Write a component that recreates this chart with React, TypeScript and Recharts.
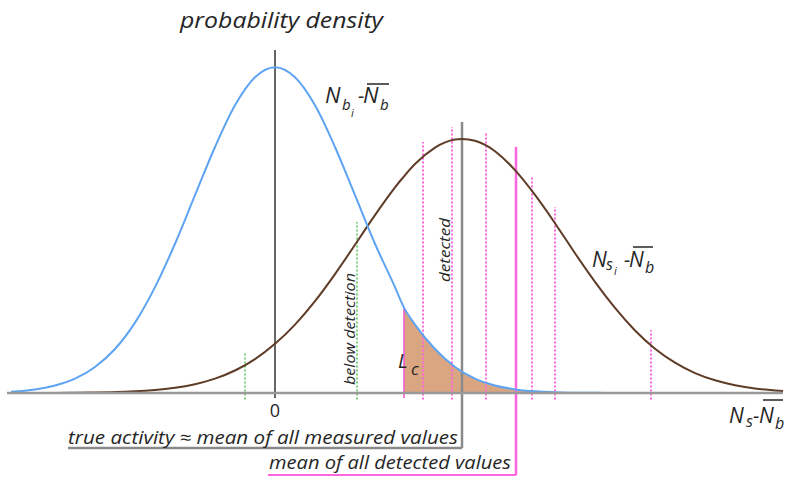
import {
  Area,
  ComposedChart,
  Line,
  ReferenceLine,
  XAxis,
  YAxis,
} from "recharts";

// x in units of the background spread, 0 = true activity
const xs = [
  -3.3, -3, -2.75, -2.5, -2.25, -2, -1.75, -1.5, -1.25, -1, -0.75, -0.5, -0.25,
  0, 0.25, 0.5, 0.75, 1, 1.25, 1.5, 1.6125, 1.75, 2, 2.25, 2.5, 2.75, 3, 3.25,
  3.5, 3.75, 4, 4.25, 4.5, 4.75, 5, 5.25, 5.5, 5.75, 6, 6.25, 6.35,
];

// N_bi - mean(N_b)
const background = [
  0.004, 0.011, 0.023, 0.044, 0.08, 0.135, 0.216, 0.325, 0.458, 0.607, 0.755,
  0.883, 0.969, 1, 0.969, 0.883, 0.755, 0.607, 0.458, 0.325, 0.262, 0.21, 0.135,
  0.08, 0.044, 0.023, 0.011, 0.005, 0.002, 0.001, 0.0005, 0.0003, 0.0002,
  0.0001, 0, null, null, null, null, null, null,
];

// N_si - mean(N_b)
const sample = [
  0.0001, 0.0001, 0.0003, 0.0007, 0.0014, 0.0027, 0.005, 0.009, 0.016, 0.027,
  0.044, 0.069, 0.104, 0.151, 0.21, 0.282, 0.365, 0.455, 0.546, 0.631, 0.665,
  0.703, 0.753, 0.778, 0.774, 0.742, 0.684, 0.608, 0.521, 0.429, 0.341, 0.261,
  0.192, 0.136, 0.093, 0.061, 0.039, 0.024, 0.014, 0.008, 0.006,
];

const criticalLevel = 1.6125;
const measuredMean = 2.3375;
const detectedMean = 3.0125;

const detectedX = [1.85, 2.2125, 2.6375, 3.2125, 3.5, 4.7];
const detectedTop = [0.77, 0.816, 0.801, 0.663, 0.571, 0.193];
const belowX = [-0.375, 1.025];
const belowTop = [0.126, 0.525];

const rows = xs.map((x, i) => ({
  x,
  background: background[i],
  sample: sample[i],
  tail: x >= criticalLevel ? background[i] : null,
}));

const PINK = "#ff66dd";
const TEXT = "#262626";
const FONT = "'Open Sans', 'Noto Sans', sans-serif";

export default function App() {
  return (
    <div
      style={{
        position: "absolute",
        left: 0,
        top: 0,
        width: 787,
        height: 477,
        background: "#fff",
      }}
    >
      <ComposedChart
        width={787}
        height={477}
        data={rows}
        margin={{ top: 2, right: 4, bottom: 54, left: 7 }}
      >
        <XAxis
          type="number"
          dataKey="x"
          domain={[-3.35, 6.35]}
          ticks={[0]}
          tickLine={false}
          axisLine={{ stroke: "#999", strokeWidth: 2.5 }}
          tick={{ fill: TEXT, fontSize: 18, fontFamily: FONT }}
          tickMargin={5}
          height={30}
        />
        <YAxis type="number" domain={[0, 1.2]} hide />
        <Area
          dataKey="tail"
          type="monotone"
          fill="#daa682"
          fillOpacity={1}
          stroke="none"
          isAnimationActive={false}
        />
        {belowX.map((x, i) => (
          <ReferenceLine
            key={"b" + x}
            segment={[
              { x, y: -0.02 },
              { x, y: belowTop[i] },
            ]}
            stroke="#55c055"
            strokeWidth={1.5}
            strokeDasharray="2 2"
            ifOverflow="visible"
          />
        ))}
        {detectedX.map((x, i) => (
          <ReferenceLine
            key={"d" + x}
            segment={[
              { x, y: -0.02 },
              { x, y: detectedTop[i] },
            ]}
            stroke={PINK}
            strokeWidth={2}
            strokeDasharray="2 2"
            ifOverflow="visible"
          />
        ))}
        <ReferenceLine
          segment={[
            { x: criticalLevel, y: -0.015 },
            { x: criticalLevel, y: 0.262 },
          ]}
          stroke="#ee55cc"
          strokeWidth={1.5}
          ifOverflow="visible"
        />
        <ReferenceLine
          segment={[
            { x: 0, y: -0.015 },
            { x: 0, y: 1.053 },
          ]}
          stroke="#333"
          strokeWidth={1.5}
          ifOverflow="visible"
        />
        <ReferenceLine
          segment={[
            { x: measuredMean, y: -0.169 },
            { x: measuredMean, y: 0.832 },
          ]}
          stroke="#8a8a8a"
          strokeWidth={2.5}
          ifOverflow="visible"
        />
        <ReferenceLine
          segment={[
            { x: -2.5875, y: -0.169 },
            { x: measuredMean, y: -0.169 },
          ]}
          stroke="#8a8a8a"
          strokeWidth={2.5}
          ifOverflow="visible"
        />
        <ReferenceLine
          segment={[
            { x: detectedMean, y: -0.252 },
            { x: detectedMean, y: 0.755 },
          ]}
          stroke={PINK}
          strokeWidth={2.5}
          ifOverflow="visible"
        />
        <ReferenceLine
          segment={[
            { x: -0.0875, y: -0.252 },
            { x: detectedMean, y: -0.252 },
          ]}
          stroke={PINK}
          strokeWidth={2}
          ifOverflow="visible"
        />
        <Line
          dataKey="sample"
          type="natural"
          stroke="#5e3c26"
          strokeWidth={2}
          dot={false}
          isAnimationActive={false}
        />
        <Line
          dataKey="background"
          type="monotone"
          stroke="#5ea4f2"
          strokeWidth={2}
          dot={false}
          isAnimationActive={false}
        />
      </ComposedChart>

      <svg
        width={787}
        height={477}
        style={{ position: "absolute", left: 0, top: 0, pointerEvents: "none" }}
        fontFamily={FONT}
        fontStyle="italic"
        fill={TEXT}
      >
        <text x={180} y={28} fontSize={21} textLength={203} lengthAdjust="spacingAndGlyphs">
          probability density
        </text>

        <text x={325} y={103} fontSize={22}>N</text>
        <text x={342} y={110} fontSize={15}>b</text>
        <text x={351} y={117} fontSize={11}>i</text>
        <text x={358} y={103} fontSize={20}>-</text>
        <text x={363} y={103} fontSize={22}>N</text>
        <text x={380} y={110} fontSize={15}>b</text>
        <line x1={367} x2={389} y1={84} y2={84} stroke={TEXT} strokeWidth={1.5} />

        <text x={592} y={267} fontSize={21}>N</text>
        <text x={606} y={270} fontSize={16}>s</text>
        <text x={614} y={275} fontSize={11}>i</text>
        <text x={624} y={267} fontSize={20}>-</text>
        <text x={629} y={267} fontSize={21}>N</text>
        <text x={645} y={273} fontSize={16}>b</text>
        <line x1={633} x2={653} y1={247} y2={247} stroke={TEXT} strokeWidth={1.5} />

        <text x={729} y={423} fontSize={21}>N</text>
        <text x={746} y={427} fontSize={16}>s</text>
        <text x={753} y={423} fontSize={20}>-</text>
        <text x={759} y={423} fontSize={21}>N</text>
        <text x={775} y={429} fontSize={16}>b</text>
        <line x1={763} x2={783} y1={400} y2={400} stroke={TEXT} strokeWidth={1.5} />

        <text x={398} y={368} fontSize={20}>L</text>
        <text x={411} y={375} fontSize={17}>c</text>

        <text
          x={355}
          y={329}
          fontSize={14}
          textAnchor="middle"
          transform="rotate(-90 355 329)"
          textLength={112}
          lengthAdjust="spacingAndGlyphs"
        >
          below detection
        </text>
        <text
          x={450}
          y={250}
          fontSize={14}
          textAnchor="middle"
          transform="rotate(-90 450 250)"
          textLength={64}
          lengthAdjust="spacingAndGlyphs"
        >
          detected
        </text>

        <text x={68} y={444} fontSize={18} textLength={390} lengthAdjust="spacingAndGlyphs">
          true activity ≈ mean of all measured values
        </text>
        <text x={269} y={469} fontSize={18} textLength={242} lengthAdjust="spacingAndGlyphs">
          mean of all detected values
        </text>
      </svg>
    </div>
  );
}
